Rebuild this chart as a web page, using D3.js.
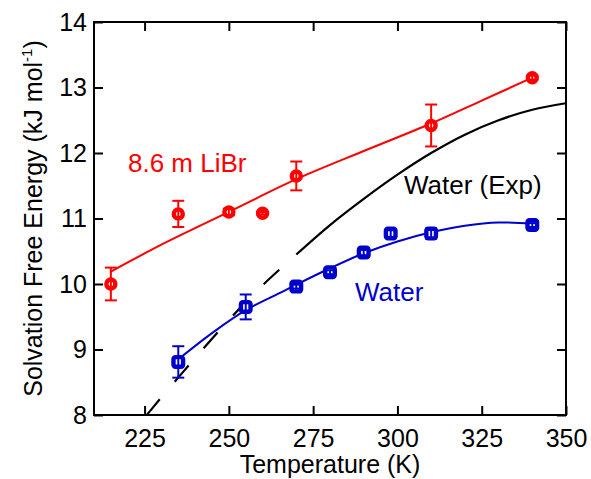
<!DOCTYPE html>
<html>
<head>
<meta charset="utf-8">
<script src="https://cdn.jsdelivr.net/npm/d3@7"></script>
<style>
  body { margin: 0; background: #fff; }
  svg text { font-family: "Liberation Sans", Arial, Helvetica, sans-serif; }
</style>
</head>
<body>
<svg width="591" height="479"></svg>
<script>
// tick values
var xTicks = [225, 250, 275, 300, 325, 350];
var yTicks = [8, 9, 10, 11, 12, 13, 14];

// 8.6 m LiBr simulation points
var librT   = [215, 235, 250, 260, 270, 310, 340];
var librG   = [10.0, 11.07, 11.1, 11.08, 11.65, 12.42, 13.15];
var librErr = [0.25, 0.2, 0.05, 0.02, 0.22, 0.32, 0.03];
// fitted line for LiBr
var librFitT = [215, 230, 250, 270, 290, 310, 325, 340];
var librFitG = [10.19, 10.6, 11.1, 11.6, 12.03, 12.45, 12.8, 13.15];

// pure water simulation points
var waterT   = [235, 255, 270, 280, 290, 298, 310, 340];
var waterG   = [8.81, 9.65, 9.96, 10.18, 10.48, 10.77, 10.77, 10.9];
var waterErr = [0.24, 0.19, 0.03, 0.03, 0.04, 0.05, 0.08, 0.03];
var waterFitT = [235, 245, 255, 265, 270, 280, 290, 300, 310, 320, 330, 340];
var waterFitG = [8.85, 9.25, 9.6, 9.86, 9.99, 10.24, 10.47, 10.65, 10.79, 10.89, 10.94, 10.92];

// experimental water curve (dashed below ~270 K)
var expT = [220, 225, 230, 240, 250, 260, 270, 280, 290, 300, 310, 320, 330, 340, 350];
var expG = [7.65, 7.96, 8.27, 8.87, 9.45, 9.98, 10.45, 10.9, 11.3, 11.67, 12.0, 12.28, 12.5, 12.66, 12.76];
var expSplit = 270;

var svg = d3.select("svg"),
    margin = {top: 22, right: 25, bottom: 64, left: 94},
    width = +svg.attr("width") - margin.left - margin.right,
    height = +svg.attr("height") - margin.top - margin.bottom;

var x = d3.scaleLinear().domain([210, 350]).range([0, width]);
var y = d3.scaleLinear().domain([8, 14]).range([height, 0]);

var g = svg.append("g")
    .attr("transform", "translate(" + margin.left + "," + margin.top + ")");

svg.append("defs").append("clipPath").attr("id", "plotclip")
  .append("rect").attr("width", width).attr("height", height);

// axes, ticks pointing inward on all four sides
function styleAxis(sel, showLabels) {
  sel.select(".domain").remove();
  sel.selectAll(".tick line").attr("stroke", "#000").attr("stroke-width", 2);
  sel.selectAll(".tick text")
    .attr("fill", "#000")
    .style("font-size", "25px")
    .style("display", showLabels ? null : "none");
}

g.append("g")
    .attr("transform", "translate(0," + height + ")")
    .call(d3.axisBottom(x).tickValues(xTicks).tickFormat(d3.format("d"))
      .tickSizeInner(-9).tickSizeOuter(0).tickPadding(14))
    .call(styleAxis, true);
g.append("g")
    .call(d3.axisTop(x).tickValues(xTicks).tickSizeInner(-9).tickSizeOuter(0))
    .call(styleAxis, false);
g.append("g")
    .call(d3.axisLeft(y).tickValues(yTicks).tickFormat(d3.format("d"))
      .tickSizeInner(-9).tickSizeOuter(0).tickPadding(7))
    .call(styleAxis, true);
g.append("g")
    .attr("transform", "translate(" + width + ",0)")
    .call(d3.axisRight(y).tickValues(yTicks).tickSizeInner(-9).tickSizeOuter(0))
    .call(styleAxis, false);

g.append("rect")
    .attr("width", width).attr("height", height)
    .attr("fill", "none").attr("stroke", "#000").attr("stroke-width", 2);

// axis titles
svg.append("text")
    .attr("x", margin.left + width / 2).attr("y", 473)
    .attr("text-anchor", "middle")
    .style("font-size", "25px")
    .text("Temperature (K)");

var yt = svg.append("text")
    .attr("transform", "translate(42," + (margin.top + height / 2) + ") rotate(-90)")
    .attr("text-anchor", "middle")
    .style("font-size", "25px");
yt.append("tspan").text("Solvation Free Energy (kJ mol");
yt.append("tspan").attr("dy", -10).style("font-size", "15px").text("-1");
yt.append("tspan").attr("dy", 10).text(")");

var line = d3.line()
    .x(function(d) { return x(d[0]); })
    .y(function(d) { return y(d[1]); })
    .curve(d3.curveCatmullRom);

var plot = g.append("g").attr("clip-path", "url(#plotclip)");

// experimental water
var exp = d3.zip(expT, expG);
var dashed = plot.append("path")
    .datum(exp.filter(function(d) { return d[0] <= expSplit; }))
    .attr("d", line)
    .attr("fill", "none").attr("stroke", "#000").attr("stroke-width", 2.2)
    .attr("stroke-dasharray", "21,23");
// line the dash pattern up so it ends on a gap where the solid part starts
var len = dashed.node().getTotalLength();
dashed.attr("stroke-dashoffset", (44 - len % 44) % 44);
plot.append("path")
    .datum(exp.filter(function(d) { return d[0] >= expSplit; }))
    .attr("d", line)
    .attr("fill", "none").attr("stroke", "#000").attr("stroke-width", 2.2);

// fits
plot.append("path")
    .datum(d3.zip(librFitT, librFitG))
    .attr("d", line)
    .attr("fill", "none").attr("stroke", "#ff0000").attr("stroke-width", 2);
plot.append("path")
    .datum(d3.zip(waterFitT, waterFitG))
    .attr("d", line)
    .attr("fill", "none").attr("stroke", "#0000cc").attr("stroke-width", 2);

// markers, then error bars on top
function drawPoints(T, G, E, color, shape) {
  var data = T.map(function(t, i) { return {t: t, g: G[i], e: E[i]}; });
  var pts = plot.append("g");
  if (shape === "circle") {
    pts.selectAll("circle").data(data).enter().append("circle")
      .attr("cx", function(d) { return x(d.t); })
      .attr("cy", function(d) { return y(d.g); })
      .attr("r", 4.5)
      .attr("fill", "#fff").attr("stroke", color).attr("stroke-width", 4.4);
  } else {
    pts.selectAll("rect").data(data).enter().append("rect")
      .attr("x", function(d) { return x(d.t) - 4.8; })
      .attr("y", function(d) { return y(d.g) - 4.8; })
      .attr("width", 9.6).attr("height", 9.6).attr("rx", 2)
      .attr("fill", "#fff").attr("stroke", color).attr("stroke-width", 4.4);
  }
  var eb = pts.selectAll("g.err").data(data).enter().append("g").attr("class", "err")
      .attr("stroke", color).attr("stroke-width", 2);
  eb.append("line")
      .attr("x1", function(d) { return x(d.t); }).attr("x2", function(d) { return x(d.t); })
      .attr("y1", function(d) { return y(d.g - d.e); }).attr("y2", function(d) { return y(d.g + d.e); });
  [-1, 1].forEach(function(s) {
    eb.append("line")
      .attr("x1", function(d) { return x(d.t) - 6; }).attr("x2", function(d) { return x(d.t) + 6; })
      .attr("y1", function(d) { return y(d.g + s * d.e); }).attr("y2", function(d) { return y(d.g + s * d.e); });
  });
}
drawPoints(librT, librG, librErr, "#ff0000", "circle");
drawPoints(waterT, waterG, waterErr, "#0000cc", "rect");

// labels
svg.append("text").attr("x", 128).attr("y", 172)
    .attr("fill", "#ff0000").style("font-size", "26px").text("8.6 m LiBr");
svg.append("text").attr("x", 404).attr("y", 194)
    .attr("fill", "#000").style("font-size", "26px").text("Water (Exp)");
svg.append("text").attr("x", 355).attr("y", 301)
    .attr("fill", "#0000cc").style("font-size", "26px").text("Water");
</script>
</body>
</html>
